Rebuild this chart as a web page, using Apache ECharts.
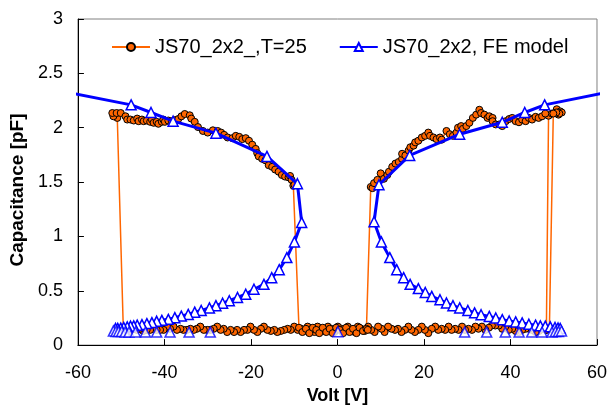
<!DOCTYPE html>
<html><head><meta charset="utf-8">
<script src="https://cdn.jsdelivr.net/npm/echarts@6/dist/echarts.min.js"></script>
<style>html,body{margin:0;padding:0;background:#fff}#c{width:610px;height:410px}</style>
</head><body><div id="c"></div>
<script>
// ---------- Measured series: JS70_2x2_,T=25 (path order) ----------
const measStart = [[48.3,0.14]];
const measTopRightEnd = [[48.8,2.11],[49.56,2.13],[50.3,2.135],[50.7,2.17],[51.1,2.12],[51.5,2.15],[51.85,2.14],[51.3,2.13],[50.6,2.14],[49.9,2.13]];
const measBottomPass1 = [[49.0,0.15],[48.2,0.14],[47.4,0.15],[46.6,0.13],[45.8,0.12],[45.0,0.14],[44.3,0.15],[43.5,0.15],[42.7,0.14],[41.9,0.12],[41.2,0.13],[40.4,0.15],[39.6,0.14],[38.8,0.17],[38.1,0.15],[37.3,0.18],[36.5,0.18],[35.7,0.18],[35.0,0.16],[34.2,0.14],[33.4,0.17],[32.6,0.15],[31.9,0.17],[31.1,0.14],[30.3,0.15],[29.5,0.14],[28.8,0.17],[28.0,0.14],[27.2,0.15],[26.4,0.14],[25.7,0.17],[24.9,0.14],[24.1,0.15],[23.3,0.14],[22.6,0.17],[21.8,0.15],[21.0,0.11],[20.2,0.14],[19.5,0.17],[18.7,0.14],[17.9,0.12],[17.1,0.14],[16.4,0.17],[15.6,0.14],[14.8,0.12],[14.0,0.15],[13.3,0.14],[12.5,0.15],[11.7,0.17],[10.9,0.12],[10.2,0.15],[9.4,0.17],[8.6,0.12],[7.8,0.14],[7.1,0.17],[6.3,0.13],[5.5,0.15],[4.7,0.17],[4.0,0.12],[3.2,0.14],[2.4,0.17],[1.6,0.13],[0.9,0.15],[0.1,0.17],[-0.7,0.12],[-1.5,0.15],[-2.2,0.17],[-3.0,0.13],[-3.8,0.15],[-4.6,0.17],[-5.3,0.12],[-6.1,0.14],[-6.9,0.17],[-7.7,0.13],[-8.4,0.15],[-9.2,0.14],[-10.0,0.17],[-10.8,0.14],[-11.5,0.15],[-12.3,0.14],[-13.1,0.13],[-13.9,0.12],[-14.6,0.14],[-15.4,0.13],[-16.2,0.14],[-17.0,0.17],[-17.7,0.15],[-18.5,0.12],[-19.3,0.14],[-20.1,0.17],[-20.8,0.14],[-21.6,0.14],[-22.4,0.12],[-23.2,0.14],[-23.9,0.12],[-24.7,0.14],[-25.5,0.12],[-26.3,0.15],[-27.0,0.14],[-27.8,0.17],[-28.6,0.15],[-29.4,0.14],[-30.1,0.14],[-30.9,0.14],[-31.7,0.17],[-32.5,0.15],[-33.2,0.14],[-34.0,0.15],[-34.8,0.14],[-35.6,0.14],[-36.3,0.15],[-37.1,0.14],[-37.9,0.17],[-38.7,0.15],[-39.4,0.17],[-40.2,0.14],[-41.0,0.14],[-41.8,0.14],[-42.5,0.15],[-43.3,0.14],[-44.1,0.14],[-44.9,0.13],[-45.6,0.15],[-46.4,0.14],[-47.2,0.15],[-48.0,0.13],[-48.7,0.15],[-49.5,0.14]];
const measTopLeft = [[-50.9,2.09],[-51.8,2.105],[-52.05,2.135],[-51.05,2.135],[-50.1,2.135],[-49.0,2.105],[-48.6,2.075],[-47.85,2.075],[-47.1,2.066],[-46.3,2.084],[-45.96,2.06],[-45.2,2.075],[-44.8,2.06],[-44.06,2.066],[-43.3,2.054],[-42.9,2.075],[-42.5,2.045],[-41.8,2.054],[-41.4,2.036],[-40.6,2.054],[-40.25,2.075],[-39.9,2.054],[-39.1,2.066],[-38.3,2.06],[-37.5,2.07],[-36.8,2.08],[-36.07,2.105],[-35.3,2.126],[-34.15,2.114],[-33.8,2.084],[-33.0,2.054],[-32.25,2.006],[-31.1,1.97],[-30.0,1.955],[-28.8,1.976],[-27.7,1.97],[-26.9,1.955],[-26.2,1.934],[-25.4,1.91],[-24.3,1.904],[-23.5,1.925],[-22.7,1.916],[-22.0,1.895],[-21.2,1.904],[-20.45,1.88],[-19.7,1.844],[-18.9,1.805],[-18.55,1.766],[-18.2,1.736],[-17.4,1.714],[-16.66,1.70],[-15.9,1.655],[-15.1,1.64],[-14.4,1.615],[-13.6,1.595],[-12.85,1.565],[-12.1,1.55],[-11.3,1.543],[-10.95,1.556],[-10.6,1.52],[-10.2,1.466],[-9.95,1.475]];
const measBottomPass2 = [[-8.9,0.16],[-8.1,0.12],[-7.3,0.15],[-6.5,0.11],[-5.7,0.16],[-4.9,0.14],[-4.2,0.11],[-3.4,0.16],[-2.6,0.12],[-1.8,0.15],[-1.1,0.11],[-0.3,0.16],[0.5,0.14],[1.3,0.11],[2.0,0.16],[2.8,0.12],[3.6,0.15],[4.4,0.11],[5.1,0.16],[5.9,0.13],[6.7,0.15],[7.0,0.14]];
const measTopRight = [[7.7,1.455],[8.09,1.444],[8.46,1.49],[9.23,1.52],[9.99,1.58],[10.74,1.53],[11.52,1.565],[11.9,1.595],[12.66,1.64],[13.4,1.67],[14.17,1.685],[14.94,1.714],[14.94,1.76],[15.7,1.745],[16.45,1.79],[16.84,1.82],[17.6,1.835],[17.98,1.865],[18.7,1.88],[19.5,1.91],[20.27,1.925],[21.0,1.955],[21.4,1.925],[22.2,1.91],[22.9,1.895],[23.7,1.91],[24.1,1.89],[25.2,1.97],[25.97,1.94],[26.7,1.925],[27.5,1.955],[27.87,2.0],[28.6,2.015],[29.0,1.99],[29.8,2.015],[30.5,2.045],[31.3,2.09],[32.07,2.12],[32.8,2.165],[33.2,2.135],[33.97,2.12],[34.7,2.09],[35.1,2.105],[35.86,2.09],[35.86,2.06],[36.6,2.03],[37.4,2.03],[38.1,2.015],[38.9,2.06],[39.7,2.08],[40.4,2.09],[41.2,2.06],[41.96,2.05],[42.7,2.075],[43.5,2.06],[44.25,2.09],[45.0,2.075],[45.8,2.1],[46.5,2.09],[47.3,2.105],[48.05,2.13]];

// ---------- FE model series ----------
const modelTopLeft = [[-61,2.315],[-47.7,2.21],[-43.1,2.14],[-38.0,2.06],[-28.1,1.95],[-16.3,1.736],[-9.26,1.484],[-8.27,1.129]];
const modelLowLeft = [[-9.95,0.949],[-11.7,0.805],[-13.46,0.694],[-15.2,0.62],[-17.0,0.559],[-19.3,0.514],[-21.2,0.468],[-23.1,0.438],[-25.0,0.408],[-26.55,0.385],[-28.1,0.363],[-29.6,0.342],[-31.5,0.318],[-33.0,0.303],[-34.5,0.282],[-36.1,0.267],[-37.6,0.252],[-39.1,0.237],[-40.6,0.228],[-41.8,0.219],[-42.9,0.207],[-44.06,0.198],[-45.2,0.189],[-46.3,0.183],[-47.1,0.177],[-47.85,0.174],[-48.6,0.168],[-49.4,0.162],[-50.1,0.156],[-50.8,0.154],[-51.3,0.153]];
const modelTopRight = [[63,2.33],[47.9,2.21],[43.3,2.14],[38.1,2.05],[28.25,1.94],[16.7,1.745],[9.6,1.475],[8.46,1.135]];
const modelLowRight = [[10.15,0.949],[12.1,0.805],[13.7,0.694],[15.3,0.62],[16.8,0.559],[18.7,0.52],[20.3,0.484],[21.8,0.448],[23.7,0.417],[25.2,0.387],[26.7,0.363],[28.26,0.342],[30.15,0.318],[31.7,0.297],[33.2,0.279],[35.1,0.264],[36.6,0.249],[38.1,0.234],[39.7,0.222],[41.2,0.213],[42.7,0.204],[44.25,0.192],[45.8,0.183],[46.9,0.177],[48.05,0.174],[49.2,0.168],[50.3,0.162],[51.0,0.157],[51.5,0.153]];
const modelBottom = [[-51.8,0.13],[-51.2,0.125],[-50.6,0.125],[-49.9,0.125],[-49.1,0.12],[-48.2,0.12],[-46.7,0.12],[-44.4,0.12],[-41.8,0.12],[-38.7,0.12],[-34.3,0.12],[-29.4,0.12],[0.1,0.123],[29.4,0.12],[34.5,0.12],[38.8,0.12],[42.0,0.12],[44.9,0.12],[47.3,0.12],[49.6,0.12],[50.4,0.125],[51.1,0.125],[51.8,0.13]];

const xTicks = {min:-60, max:60, interval:20};
const yTicks = {min:0, max:3, interval:0.5};
const measName = 'JS70_2x2_,T=25';
const modelName = 'JS70_2x2, FE model';

const measPath = [].concat(measStart, measTopRightEnd, measBottomPass1, measTopLeft, measBottomPass2, measTopRight);
const offAxis = p => (p[0] < xTicks.min || p[0] > xTicks.max) ? {value:p, symbol:'none'} : p;
const modelA = modelTopLeft.concat(modelLowLeft).map(offAxis);
const modelB = modelTopRight.concat(modelLowRight).map(offAxis);

const font = 'Liberation Sans, Arial, sans-serif';
const blueItem = {color:'#ffffff', borderColor:'#0000ff', borderWidth:1.5};
const chart = echarts.init(document.getElementById('c'), null, {renderer:'canvas'});
chart.setOption({
  animation:false,
  backgroundColor:'#ffffff',
  grid:{left:73, right:11, top:19, bottom:58, show:true, borderColor:'#808080', borderWidth:1, backgroundColor:'transparent'},
  legend:{
    left:106, top:32, itemWidth:38, itemHeight:10, itemGap:32,
    textStyle:{fontFamily:font, fontSize:20, color:'#000'},
    data:[measName, modelName]
  },
  xAxis:{
    type:'value', min:xTicks.min, max:xTicks.max, interval:xTicks.interval,
    name:'Volt [V]', nameLocation:'middle', nameGap:35,
    nameTextStyle:{fontFamily:font, fontSize:18, fontWeight:'bold', color:'#000'},
    axisLine:{onZero:false, lineStyle:{color:'#000', width:1}},
    axisTick:{inside:true, length:6, lineStyle:{color:'#000'}},
    axisLabel:{fontFamily:font, fontSize:18, color:'#000', margin:19},
    splitLine:{show:false}
  },
  yAxis:{
    type:'value', min:yTicks.min, max:yTicks.max, interval:yTicks.interval,
    name:'Capacitance [pF]', nameLocation:'middle', nameGap:47,
    nameTextStyle:{fontFamily:font, fontSize:19, fontWeight:'bold', color:'#000', padding:[0,16,0,0]},
    axisLine:{show:true, onZero:false, lineStyle:{color:'#000', width:1}},
    axisTick:{show:true, inside:true, length:6, lineStyle:{color:'#000'}},
    axisLabel:{fontFamily:font, fontSize:18, color:'#000', margin:15},
    splitLine:{show:false}
  },
  series:[
    {name:measName, type:'line', data:measPath, z:2,
     symbol:'circle', symbolSize:7, showAllSymbol:true,
     itemStyle:{color:'#ff6600', borderColor:'#000000', borderWidth:1},
     lineStyle:{color:'#ff6600', width:1.5}},
    {name:modelName, type:'line', data:modelA, z:3, clip:false,
     symbol:'triangle', symbolSize:10, showAllSymbol:true,
     itemStyle:blueItem, lineStyle:{color:'#0000ff', width:3}},
    {name:modelName, type:'line', data:modelB, z:3, clip:false,
     symbol:'triangle', symbolSize:10, showAllSymbol:true,
     itemStyle:blueItem, lineStyle:{color:'#0000ff', width:3}},
    {name:modelName, type:'scatter', data:modelBottom, z:3,
     symbol:'triangle', symbolSize:10, itemStyle:blueItem}
  ]
});
</script></body></html>
